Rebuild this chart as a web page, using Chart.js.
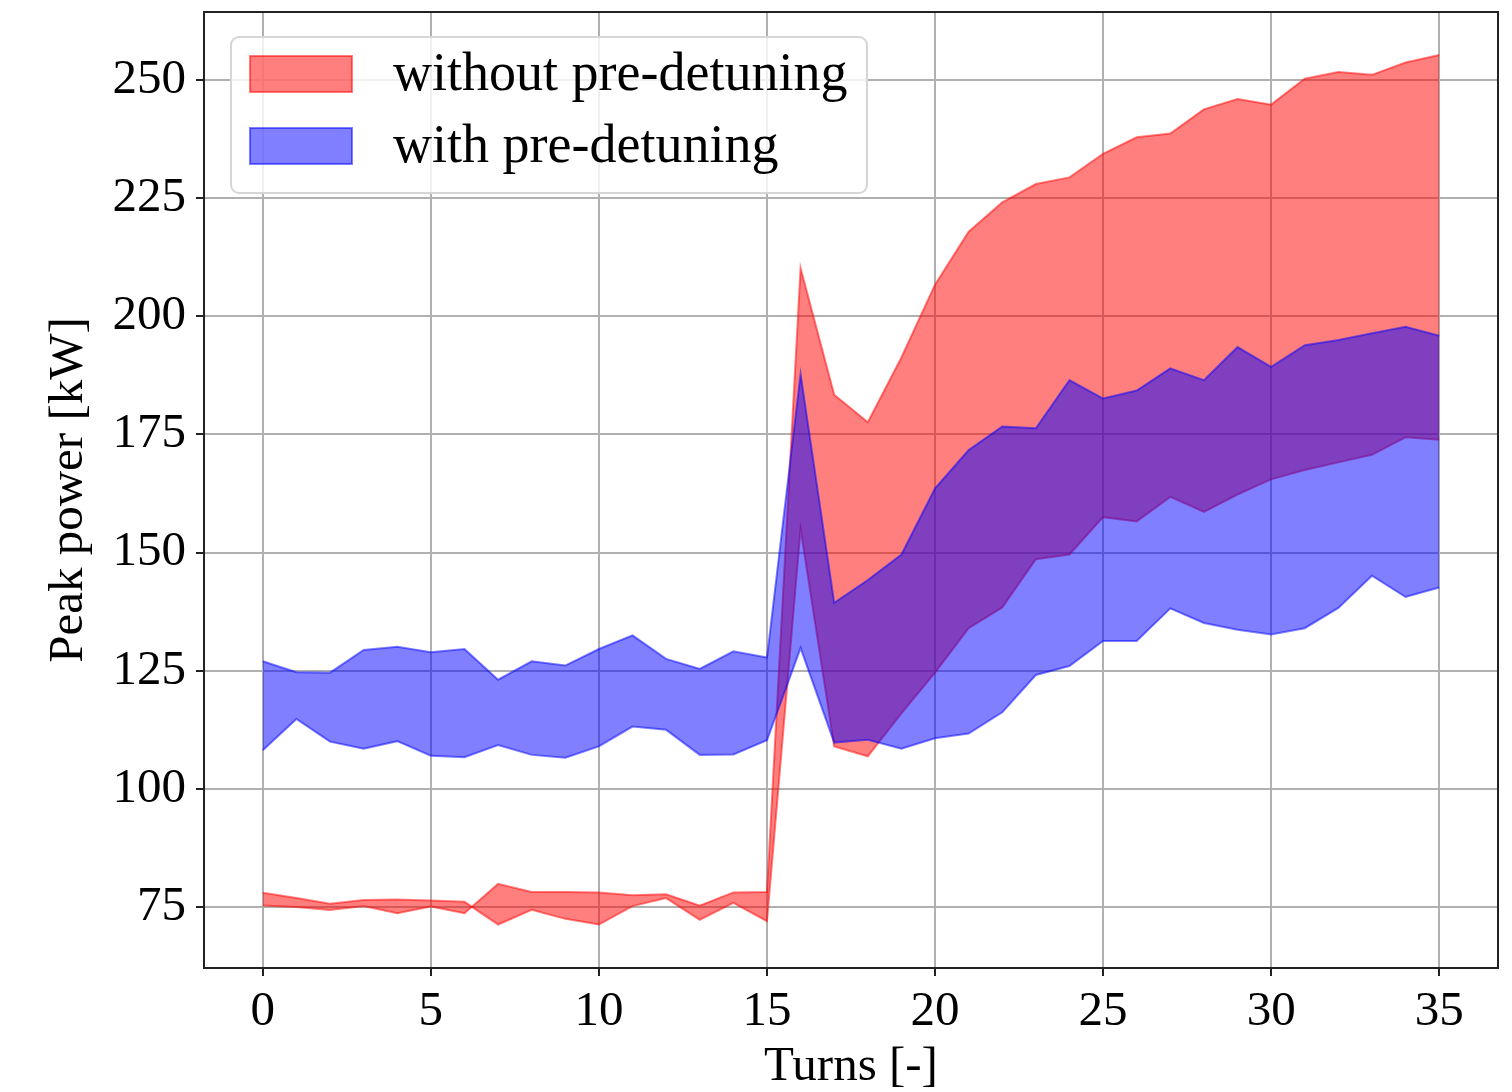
<!DOCTYPE html>
<html>
<head>
<meta charset="utf-8">
<script src="https://cdn.jsdelivr.net/npm/chart.js@4.4.1/dist/chart.umd.min.js"></script>
<style>
  html, body { margin: 0; padding: 0; background: #fff; }
  #wrap { width: 1512px; height: 1092px; }
</style>
</head>
<body>
<div id="wrap"><canvas id="peakChart" width="1512" height="1092"></canvas></div>
<script>
// turn index
const turns = [];
for (let t = 0; t <= 35; t++) turns.push(t);

// peak power band edges [kW], without pre-detuning (edges cross a few times)
const withoutEdge1 = [75.3, 75.0, 74.4, 75.2, 73.7, 75.1, 73.7, 79.9, 78.2, 78.2, 78.1, 77.5, 77.7, 75.3, 78.1, 78.2,
    210.2, 183.4, 177.6, 191.3, 206.7, 217.9, 224.1, 228.0, 229.4, 234.4, 237.9, 238.7, 243.8, 246.0,
    244.8, 250.3, 251.7, 251.1, 253.7, 255.3];
const withoutEdge2 = [78.0, 76.9, 75.7, 76.5, 76.6, 76.4, 76.1, 71.3, 74.4, 72.5, 71.3, 75.2, 76.9, 72.3, 75.9, 72.0,
    155.0, 109.0, 106.9, 116.0, 124.6, 134.0, 138.4, 148.6, 149.6, 157.5, 156.6, 161.8, 158.6, 162.3,
    165.5, 167.5, 169.1, 170.7, 174.4, 173.9];

// peak power band [kW], with pre-detuning
const withMax = [127.0, 124.7, 124.6, 129.4, 130.1, 128.9, 129.6, 123.1, 127.0, 126.1, 129.6, 132.5, 127.5, 125.4, 129.1, 127.8,
    187.8, 139.4, 144.2, 149.6, 163.6, 171.7, 176.7, 176.3, 186.5, 182.6, 184.3, 189.0, 186.5, 193.5,
    189.3, 193.9, 195.0, 196.4, 197.8, 195.9];
const withMin = [108.2, 114.8, 110.0, 108.5, 110.1, 107.0, 106.7, 109.3, 107.2, 106.6, 109.0, 113.2, 112.5, 107.2, 107.3, 110.3,
    129.8, 109.8, 110.4, 108.5, 110.7, 111.7, 116.2, 124.1, 126.0, 131.3, 131.3, 138.2, 135.1, 133.7,
    132.7, 134.0, 138.3, 145.1, 140.6, 142.6];

const xTicks = [0, 5, 10, 15, 20, 25, 30, 35];
const yTicks = [75, 100, 125, 150, 175, 200, 225, 250];
const seriesNames = ['without pre-detuning', 'with pre-detuning'];

const RED_FILL = 'rgba(255,0,0,0.5)';
const BLUE_FILL = 'rgba(0,0,255,0.5)';
const SERIF = "'Liberation Serif', 'DejaVu Serif', serif";

function pts(arr) {
    return turns.map((t, i) => ({x: t, y: arr[i]}));
}

// frame on all four sides + legend box inside the plot
const frameLegend = {
    id: 'frameLegend',
    afterDraw(chart) {
        const ctx = chart.ctx;
        const a = chart.chartArea;
        ctx.save();
        ctx.strokeStyle = '#222';
        ctx.lineWidth = 2;
        ctx.strokeRect(a.left, a.top, a.right - a.left, a.bottom - a.top);

        // legend
        const bx = a.left + 27, by = a.top + 25, bw = 636, bh = 156, r = 8;
        ctx.beginPath();
        ctx.roundRect(bx, by, bw, bh, r);
        ctx.fillStyle = 'rgba(255,255,255,0.8)';
        ctx.fill();
        ctx.strokeStyle = '#d6d6d6';
        ctx.lineWidth = 2;
        ctx.stroke();

        const items = [[seriesNames[0], RED_FILL], [seriesNames[1], BLUE_FILL]];
        ctx.font = '54px ' + SERIF;
        ctx.textBaseline = 'middle';
        ctx.textAlign = 'left';
        items.forEach((it, k) => {
            const py = by + 19 + k * 72;
            ctx.fillStyle = it[1];
            ctx.fillRect(bx + 19, py, 102, 36);
            ctx.strokeStyle = it[1];
            ctx.lineWidth = 2;
            ctx.strokeRect(bx + 19, py, 102, 36);
            ctx.fillStyle = '#000';
            ctx.fillText(it[0], bx + 162, py + 20);
        });
        ctx.restore();
    }
};

var ctx = document.getElementById('peakChart').getContext('2d');
var peakChart = new Chart(ctx, {
    type: 'line',
    data: {
        datasets: [
            // blue first so it ends up drawn over the red band
            {label: seriesNames[1], data: pts(withMax), borderColor: BLUE_FILL, backgroundColor: BLUE_FILL,
                borderWidth: 2, pointRadius: 0, fill: false},
            {label: seriesNames[1], data: pts(withMin), borderColor: BLUE_FILL, backgroundColor: BLUE_FILL,
                borderWidth: 2, pointRadius: 0, fill: '-1'},
            {label: seriesNames[0], data: pts(withoutEdge1), borderColor: RED_FILL, backgroundColor: RED_FILL,
                borderWidth: 2, pointRadius: 0, fill: false},
            {label: seriesNames[0], data: pts(withoutEdge2), borderColor: RED_FILL, backgroundColor: RED_FILL,
                borderWidth: 2, pointRadius: 0, fill: '-1'}
        ]
    },
    options: {
        responsive: false,
        animation: false,
        devicePixelRatio: 1,
        layout: {padding: {top: 12, right: 14, left: 0, bottom: 0}},
        plugins: {
            legend: {display: false},
            tooltip: {enabled: false}
        },
        elements: {line: {tension: 0}},
        scales: {
            x: {
                type: 'linear',
                min: -1.75,
                max: 36.75,
                z: 1,
                afterBuildTicks: s => { s.ticks = xTicks.map(v => ({value: v})); },
                afterFit: s => { s.height = 124; s.paddingLeft = 0; s.paddingRight = 0; },
                grid: {color: '#b0b0b0', lineWidth: 2, tickColor: '#222', tickLength: 8, tickWidth: 2},
                border: {color: '#222', width: 2},
                ticks: {color: '#000', font: {family: SERIF, size: 49}, padding: 7, maxRotation: 0},
                title: {display: true, text: 'Turns [-]', color: '#000',
                    font: {family: SERIF, size: 49, lineHeight: 1.0}, padding: {top: 0, bottom: 0}}
            },
            y: {
                type: 'linear',
                min: 62.1,
                max: 264.4,
                z: 1,
                afterBuildTicks: s => { s.ticks = yTicks.map(v => ({value: v})); },
                afterFit: s => { s.width = 204; s.paddingTop = 0; s.paddingBottom = 0; },
                grid: {color: '#b0b0b0', lineWidth: 2, tickColor: '#222', tickLength: 8, tickWidth: 2},
                border: {color: '#222', width: 2},
                ticks: {color: '#000', font: {family: SERIF, size: 49}, padding: 10},
                title: {display: true, text: 'Peak power [kW]', color: '#000',
                    font: {family: SERIF, size: 49, lineHeight: 1.2}, padding: {top: 40, bottom: 0}}
            }
        }
    },
    plugins: [frameLegend]
});
</script>
</body>
</html>
